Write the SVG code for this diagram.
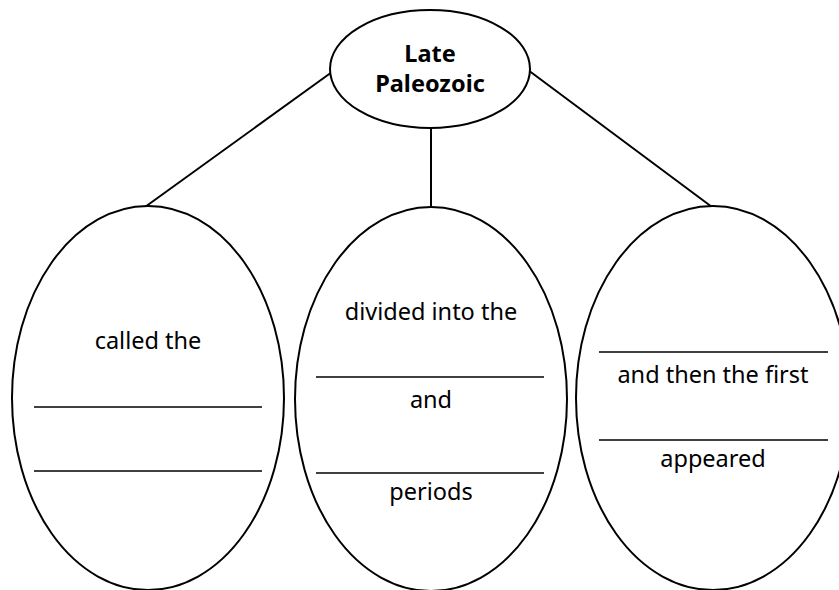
<svg xmlns="http://www.w3.org/2000/svg" width="839" height="590" viewBox="0 0 839 590">
<style>
.shape{fill:#fff;stroke:#000;stroke-width:2}
.conn{stroke:#000;stroke-width:2;fill:none}
.blank{stroke:#000;stroke-width:1.5}
.t{font-family:"Noto Sans","Open Sans",sans-serif;font-size:23.5px;fill:#000;text-anchor:middle}
.tb{font-family:"Noto Sans","Open Sans",sans-serif;font-size:23.5px;font-weight:bold;fill:#000;text-anchor:middle}
</style>
<rect width="839" height="590" fill="#fff"/>
<g id="connectors">
<line class="conn" x1="332" y1="72" x2="145" y2="207"/>
<line class="conn" x1="431" y1="128" x2="431" y2="207"/>
<line class="conn" x1="528" y1="70" x2="712" y2="207"/>
</g>
<g id="late-paleozoic">
<ellipse class="shape" cx="430" cy="69" rx="100" ry="59"/>
<text class="tb" x="430" y="62">Late</text>
<text class="tb" x="430" y="92">Paleozoic</text>
</g>
<g id="called">
<ellipse class="shape" cx="148" cy="398" rx="136" ry="192"/>
<text class="t" x="148" y="349">called the</text>
<line class="blank" x1="34" y1="407" x2="262" y2="407"/>
<line class="blank" x1="34" y1="471" x2="262" y2="471"/>
</g>
<g id="divided">
<ellipse class="shape" cx="431" cy="399" rx="136" ry="192"/>
<text class="t" x="431" y="320">divided into the</text>
<line class="blank" x1="316" y1="377" x2="544" y2="377"/>
<text class="t" x="431" y="408">and</text>
<line class="blank" x1="316" y1="473" x2="544" y2="473"/>
<text class="t" x="431" y="500">periods</text>
</g>
<g id="appeared">
<ellipse class="shape" cx="713" cy="398" rx="137" ry="192"/>
<line class="blank" x1="599" y1="352" x2="828" y2="352"/>
<text class="t" x="713" y="383">and then the first</text>
<line class="blank" x1="599" y1="440" x2="828" y2="440"/>
<text class="t" x="713" y="467">appeared</text>
</g>
</svg>
